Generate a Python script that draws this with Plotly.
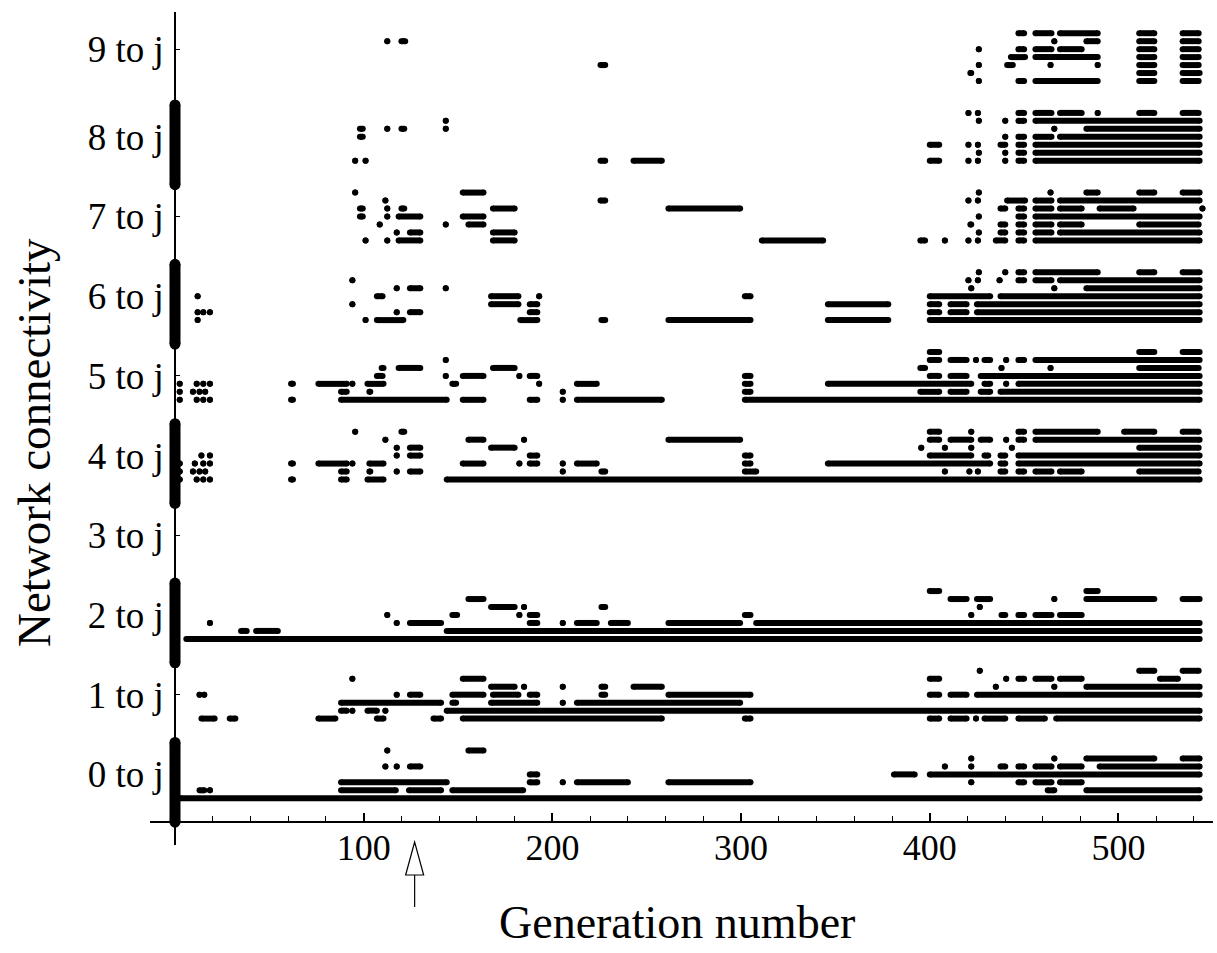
import plotly.graph_objects as go

# ---------------- data ----------------
# Each group i ("i to j") has rows j = 0..6; each row lists generations where the
# connection i -> j exists: a number is a single generation, [a, b] a run.
G0 = [
    [[3, 543]],
    [[13, 15.5], 18.5, [88, 117], [124, 141], [147, 184.5], [462.5, 466], [483, 543]],
    [[88, 144], [188, 192], 205.5, [213, 240], [261.5, 305], 422, [447, 450], [456, 464.5], [469, 480.5]],
    [[188, 192], [381, 392], [400, 543]],
    [111.5, 117.5, [124.5, 130], 408, 422, [437.5, 440], [447, 450], [456, 464.5], [469, 480.5], [490, 543]],
    [422, 466, [483, 519], [534, 543]],
    [112.5, [155.5, 163.5]],
]
G1 = [
    [[14, 21], [29, 32], [76, 85], [107, 110.5], [137, 141], [152.5, 258], [302, 305], [400, 405],
     [411, 419.5], 424.5, [429, 440], [447, 461], [467, 543]],
    [[88, 91], 94, [102, 107], 111.5, [144, 543]],
    [[88, 141], [147, 149], [167.5, 192], 205.5, [213, 299.5]],
    [13, 15.5, 117.5, [124.5, 130], [147, 163.5], [168.5, 182], [188, 192], [226, 228], [261.5, 305],
     [400, 405], [411, 419.5], [425, 543]],
    [[167.5, 180], 185, 205.5, [226, 228], [243, 258], 435, 466, [483, 543]],
    [94, [152.5, 163.5], [400, 405], 440.5, [447, 450], [456, 464.5], [469, 480.5], [522, 531.5]],
    [426.5, [511, 519], [534, 542.5]],
]
G2 = [
    [[6, 543]],
    [[35, 38], [43, 54.5], [144, 543]],
    [18.5, 117.5, [124.5, 141], [188, 192], 205.5, [213, 223.5], [231, 240], [261.5, 299.5], [308, 543]],
    [112.5, [147, 149.5], 182.5, [188, 192], [302, 305], 422, [438, 440], [447, 450], [456, 464.5], [469, 480.5]],
    [[167.5, 180], 185, [226, 228], 426.5],
    [[155.5, 163.5], [411, 419.5], [425, 432], 466, [483, 519], [534, 543]],
    [[400, 405], [483, 489]],
]
G3 = [[], [], [], [], [], [], []]
G4 = [
    [2.5, 11.5, 15, 18.5, [61.5, 62.5], [88, 91], [102, 110.5], [144, 543]],
    [2.5, 9.5, 13, 16, [88, 91], [103, 103.5], 117.5, [124.5, 130], 205.5, [226, 228], [302, 308], 408, 421,
     425.5, [437.5, 440], [447, 450], [456, 464.5], [469, 480.5], [511, 542.5]],
    [2.5, 10.5, 15, 18.5, [61.5, 62.5], [76, 91], 94, [103, 110.5], [152.5, 163.5], 182.5, [188, 192], 205.5,
     [213, 223.5], [302, 305], [346, 432], [437.5, 440], [447, 543]],
    [14, 18.5, 117.5, [124.5, 130], [188, 192], [302, 305], [400, 422], [429, 431], [437.5, 440], [447, 543]],
    [117.5, [124.5, 130], [167.5, 180], 395.5, 408, 422, 443.5, [511, 542.5]],
    [111.5, [155.5, 163.5], 185, [261.5, 299.5], [400, 405], [411, 422], [427, 432], 440.5, [447, 450], [456, 543]],
    [95.5, [120, 121.5], [400, 405], 422, [447, 450], [456, 489], [503, 519], [534, 542.5]],
]
G5 = [
    [2.5, 11.5, 15, 18.5, [61.5, 62.5], [88, 144], [152.5, 163.5], [188, 192], 205.5, [213, 258], [302, 543]],
    [2.5, 9.5, 13, 16, [88, 91], [103, 103.5], 205.5, [302, 305], [395, 405], [411, 419.5], [427, 432], [437.5, 543]],
    [2.5, 11.5, 15, 18.5, [61.5, 62.5], [76, 91], 94, [102, 110.5], [147, 149], 193, [213, 223.5], [302, 305],
     [346, 422], [429, 432], 440.5, [447, 543]],
    [[107, 110], 143.5, [152.5, 163.5], 182.5, [188, 192], [302, 305], [400, 405], [411, 419.5], [427, 543]],
    [[109.5, 110.5], [118.5, 130], [168.5, 180], [395, 397.5], 438, 464, [511, 542.5]],
    [143.5, [400, 405], [411, 419.5], 424.5, [429, 432], 440.5, [447, 450], [456, 543]],
    [[400, 405], [511, 519], [534, 543]],
]
G6 = [
    [12, 101, [107, 121], [183, 192], [226, 228], [261.5, 305], [346, 378], [400, 543]],
    [12, 15, 18.5, 117.5, [124.5, 130], [188, 192], [400, 405], [411, 419.5], [425, 543]],
    [94, [167.5, 182], [188, 192], [346, 378], [400, 405], [411, 419.5], [425, 543]],
    [12, [107, 110], [167.5, 182], 193, [302, 305], [400, 432], [437.5, 543]],
    [117.5, [124.5, 130], 143.5, 422, 466, [483, 543]],
    [94, 420.5, 425.5, 437, [447, 450], [456, 464.5], [469, 543]],
    [426, 440, [447, 450], [456, 489], [511, 519], [534, 543]],
]
G7 = [
    [101, 112.5, [118.5, 130], [168.5, 180], [311, 343.5], [395, 397.5], 408, 420.5, 425.5, [435, 440],
     [447, 450], [456, 543]],
    [117.5, [124.5, 130], [168.5, 180], 426, [437.5, 440], [447, 450], [456, 464.5], [469, 543]],
    [108.5, 143.5, [155.5, 163.5], [421.5, 422], [437.5, 440], [447, 450], [456, 464.5], [469, 480.5], [511, 542.5]],
    [[98, 99.5], 112.5, [118.5, 130], [152.5, 163.5], 426, [447, 450], [456, 543]],
    [[98, 99.5], 112.5, [120, 121.5], [168.5, 180], [261.5, 299.5], [437.5, 440], [447, 450], [456, 464.5],
     [469, 480.5], [490, 508], 544.5],
    [111.5, [225.5, 228], 420.5, 425.5, [441, 450.5], [456, 464.5], [469, 543]],
    [95.5, [152.5, 163.5], 426, 464, [483, 489], [511, 519], [534, 543]],
]
G8 = [
    [95.5, 101, [225.5, 228], [243, 258], [400, 405], 420.5, 425.5, 440, [447, 450], [456, 543]],
    [426, 440, [447, 450], [456, 543]],
    [[400, 405], 420.5, 425.5, [437.5, 440], [447, 450], [456, 543]],
    [[98, 99.5], 440, [447, 450], [456, 464.5], [469, 543]],
    [[98, 99.5], 112.5, [120, 121.5], 143.5, 466, [483, 543]],
    [143.5, 426, 440, [447, 450], [456, 543]],
    [420.5, 425.5, [447, 450], [456, 464.5], [469, 480.5], 489, [511, 519], [534, 542.5]],
]
G9 = [
    [426, [447, 450], [456, 489], [511, 519], [534, 542.5]],
    [[421.5, 422], [511, 519], [534, 543]],
    [[225.5, 228], 426, [441, 444], 464, 489, [511, 519], [534, 542.5]],
    [[443, 450.5], [456, 489], [511, 519], [534, 542.5]],
    [426, [447, 450], [456, 464.5], [469, 480.5], [511, 519], [534, 542.5]],
    [112.5, [120, 122], 466, [483, 489], [511, 519], [534, 542.5]],
    [[447, 450], [456, 464.5], [469, 489], [511, 519], [534, 542.5]],
]
GROUPS = [G0, G1, G2, G3, G4, G5, G6, G7, G8, G9]

# groups fully connected at generation 0 (drawn as a heavy bar on the axis)
INITIAL_GROUPS = [0, 2, 4, 6, 8]
INITIAL_SPAN = [-3, 7]          # rows covered by the initial bar, relative to the group

X_TICKS = [100, 200, 300, 400, 500]
X_TICK_TEXT = ["100", "200", "300", "400", "500"]
Y_TICKS = [3, 13, 23, 33, 43, 53, 63, 73, 83, 94]
Y_TICK_TEXT = [f"{i} to j" for i in range(10)]
ARROW_GEN = 127

# ---------------- layout constants ----------------
W, H = 1217, 953
ML, MR, MT, MB = 150, 4, 12, 108
PLOT_W, PLOT_H = W - ML - MR, H - MT - MB
GROUP_STEP = 10
X_RANGE = [-13.25, 550.1]
Y_RANGE = [-5.86, 98.66]
Y_CROSS = -3        # where the horizontal axis crosses
FONT = "Liberation Serif"


def px_x(px):
    return (px - ML) / PLOT_W


def px_y(py):
    return (H - MB - py) / PLOT_H


# ---------------- traces ----------------
xs, ys = [], []
for i, group in enumerate(GROUPS):
    for j, row in enumerate(group):
        yv = GROUP_STEP * i + j
        for item in row:
            a, b = (item, item) if isinstance(item, (int, float)) else item
            xs += [a, b, None]
            ys += [yv, yv, None]

bx, by = [], []
for i in INITIAL_GROUPS:
    bx += [0, 0, None]
    by += [GROUP_STEP * i + INITIAL_SPAN[0], GROUP_STEP * i + INITIAL_SPAN[1], None]

fig = go.Figure()
fig.add_trace(go.Scatter(x=xs, y=ys, mode="lines+markers",
                         line=dict(color="black", width=6),
                         marker=dict(color="black", size=6, line=dict(width=0)),
                         hoverinfo="skip", showlegend=False))
fig.add_trace(go.Scatter(x=bx, y=by, mode="lines+markers",
                         line=dict(color="black", width=11),
                         marker=dict(color="black", size=11, line=dict(width=0)),
                         hoverinfo="skip", showlegend=False))

x_pos = (Y_CROSS - Y_RANGE[0]) / (Y_RANGE[1] - Y_RANGE[0])
y_pos = (0 - X_RANGE[0]) / (X_RANGE[1] - X_RANGE[0])

fig.update_layout(
    width=W, height=H,
    margin=dict(l=ML, r=MR, t=MT, b=MB),
    paper_bgcolor="white", plot_bgcolor="white",
    showlegend=False,
    xaxis=dict(range=X_RANGE, anchor="free", position=x_pos,
               showline=True, linecolor="black", linewidth=2,
               showgrid=False, zeroline=False,
               tickmode="array", tickvals=X_TICKS, ticktext=X_TICK_TEXT,
               ticks="inside", ticklen=8, tickwidth=1.5, tickcolor="black",
               ticklabelstandoff=-6,
               tickfont=dict(family=FONT, size=36, color="black"),
               minor=dict(tickmode="linear", tick0=0, dtick=20, ticks="inside",
                          ticklen=5, tickwidth=1, tickcolor="black")),
    yaxis=dict(range=Y_RANGE, anchor="free", position=y_pos,
               showline=True, linecolor="black", linewidth=1.5,
               showgrid=False, zeroline=False,
               tickmode="array", tickvals=Y_TICKS, ticktext=Y_TICK_TEXT,
               ticks="inside", ticklen=4, tickwidth=1, tickcolor="black",
               ticklabelstandoff=3,
               tickfont=dict(family=FONT, size=37, color="black")),
    annotations=[
        dict(text="Generation number", xref="paper", yref="paper",
             x=px_x(677), y=px_y(922), xanchor="center", yanchor="middle",
             showarrow=False, font=dict(family=FONT, size=46, color="black")),
        dict(text="Network connectivity", xref="paper", yref="paper",
             x=px_x(34), y=px_y(443), xanchor="center", yanchor="middle",
             textangle=-90, showarrow=False,
             font=dict(family=FONT, size=47, color="black")),
    ],
)

# open arrow marking a generation below the axis
px_per_gen = PLOT_W / (X_RANGE[1] - X_RANGE[0])
half = 9 / px_per_gen
tip, base, tail = px_y(842), px_y(875), px_y(907)
fig.add_shape(type="path", xref="x", yref="paper",
              path=f"M {ARROW_GEN},{tip} L {ARROW_GEN - half},{base} L {ARROW_GEN + half},{base} Z",
              fillcolor="white", line=dict(color="black", width=1.2))
fig.add_shape(type="line", xref="x", yref="paper",
              x0=ARROW_GEN, x1=ARROW_GEN, y0=base, y1=tail,
              line=dict(color="black", width=1.2))

fig.write_html("out.html", include_plotlyjs=True,
               config={"displayModeBar": False},
               post_script="document.body.style.margin='0';document.body.style.overflow='hidden';")
